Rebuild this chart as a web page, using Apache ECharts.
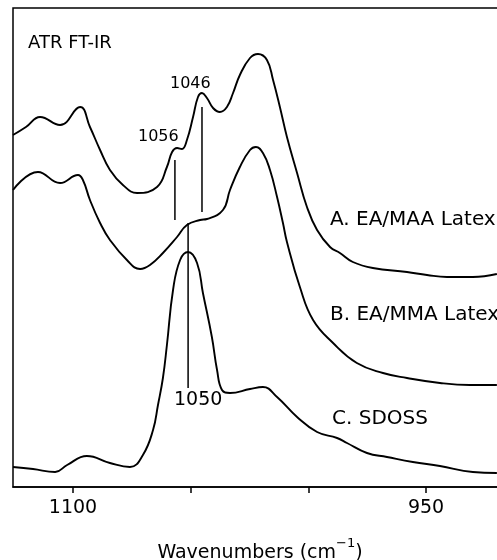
<!DOCTYPE html>
<html>
<head>
<meta charset="utf-8">
<script src="https://cdn.jsdelivr.net/npm/echarts@6/dist/echarts.min.js"></script>
<style>
  html, body { margin: 0; padding: 0; background: #fff; }
  #chart { width: 497px; height: 560px; }
</style>
</head>
<body>
<div id="chart"></div>
<script>
// wavenumbers (cm-1) and relative absorbance (arbitrary, stacked offsets)
var wnA = [1125.5, 1120.0, 1114.0, 1105.5, 1097.0, 1092.8, 1088.5, 1084.3, 1078.8, 1072.8, 1064.3, 1060.1, 1057.9, 1055.8, 1053.7, 1051.6, 1049.0, 1046.9, 1045.2, 1043.1, 1040.5, 1037.6, 1034.6, 1032.0, 1029.1, 1024.8, 1021.4, 1017.6, 1015.0, 1012.1, 1009.1, 1004.8, 1000.6, 996.3, 990.8, 986.6, 981.1, 972.6, 958.1, 949.6, 941.1, 930.1, 919.9];
var absA = [352, 360, 370, 362, 380, 360, 337, 317, 302, 294, 300, 320, 335, 339, 338, 347, 370, 390, 394, 389, 379, 375, 380, 394, 412, 429, 433, 427, 407, 380, 350, 314, 280, 257, 240, 234, 225, 219, 215, 212, 210, 210, 213];

var wnB = [1125.5, 1114.9, 1105.5, 1097.9, 1095.8, 1092.8, 1088.5, 1084.3, 1077.1, 1071.5, 1067.3, 1061.8, 1055.8, 1051.6, 1046.0, 1043.1, 1036.3, 1033.3, 1029.1, 1024.8, 1022.3, 1019.3, 1016.3, 1013.3, 1010.8, 1009.1, 1003.6, 998.0, 989.5, 979.4, 968.3, 958.1, 944.1, 931.4, 919.9];
var absB = [297, 315, 304, 312, 307, 287, 264, 247, 227, 218, 222, 234, 250, 262, 267, 268, 277, 297, 320, 337, 340, 334, 317, 290, 264, 245, 200, 167, 144, 124, 114, 109, 104, 102, 102];

var wnC = [1125.5, 1117.0, 1107.6, 1102.5, 1094.1, 1084.3, 1075.8, 1070.3, 1066.0, 1063.9, 1061.8, 1060.1, 1057.5, 1054.5, 1051.1, 1047.3, 1044.8, 1041.0, 1038.8, 1036.7, 1033.3, 1024.8, 1019.3, 1013.3, 1004.8, 996.3, 987.8, 983.6, 975.1, 966.6, 955.6, 944.1, 930.1, 919.9];
var absC = [20, 18, 15, 22, 31, 24, 20, 32, 57, 82, 109, 142, 197, 227, 235, 224, 194, 150, 117, 97, 94, 98, 100, 90, 70, 55, 49, 44, 34, 30, 25, 21, 15, 14];

// band marker lines: position, upper and lower end
var markWn = [1056.7, 1045.2, 1051.1];
var markTop = [327, 380, 264];
var markBottom = [267, 275, 99];

var tickValues = [1100, 1050, 1000, 950];
var labelValues = [1100, 950];

function zip(xs, ys) {
  return xs.map(function (x, i) { return [x, ys[i]]; });
}

var font = "DejaVu Sans";
var chart = echarts.init(document.getElementById("chart"));

var series = [
  { name: "A", data: zip(wnA, absA) },
  { name: "B", data: zip(wnB, absB) },
  { name: "C", data: zip(wnC, absC) }
].map(function (s) {
  return {
    name: s.name,
    type: "line",
    data: s.data,
    smooth: 0.45,
    symbol: "none",
    lineStyle: { color: "#000", width: 1.9 }
  };
});

markWn.forEach(function (w, i) {
  series.push({
    type: "line",
    data: [[w, markTop[i]], [w, markBottom[i]]],
    symbol: "none",
    lineStyle: { color: "#000", width: 1.5 }
  });
});

chart.setOption({
  animation: false,
  grid: {
    left: 13, top: 8, right: -10, bottom: 73,
    outerBoundsMode: "none",
    containLabel: false,
    show: true, borderColor: "#000", borderWidth: 1.5
  },
  xAxis: {
    type: "value",
    inverse: true,
    min: 915.6,
    max: 1125.5,
    splitLine: { show: false },
    axisLine: { lineStyle: { color: "#000", width: 1.5 } },
    axisTick: { show: true, customValues: tickValues, length: 6, lineStyle: { color: "#000", width: 1.5 } },
    axisLabel: {
      customValues: labelValues, color: "#000", fontFamily: font, fontSize: 19, margin: 12,
      formatter: function (v) { return String(v); }
    },
    name: "{a|Wavenumbers (cm}{s|\u22121}{a|)}",
    nameLocation: "middle",
    nameGap: 50,
    nameTextStyle: {
      rich: {
        a: { fontFamily: font, fontSize: 19, color: "#000", lineHeight: 26, verticalAlign: "bottom" },
        s: { fontFamily: font, fontSize: 13, color: "#000", lineHeight: 26, verticalAlign: "top" }
      }
    }
  },
  yAxis: {
    type: "value",
    min: 0,
    max: 479,
    splitLine: { show: false },
    axisLine: { show: false },
    axisTick: { show: false },
    axisLabel: { show: false }
  },
  graphic: [
    { type: "text", left: 28, top: 34, style: { text: "ATR FT-IR", font: "18px DejaVu Sans", fill: "#000" } },
    { type: "text", left: 170, top: 76, style: { text: "1046", font: "16px DejaVu Sans", fill: "#000" } },
    { type: "text", left: 138, top: 129, style: { text: "1056", font: "16px DejaVu Sans", fill: "#000" } },
    { type: "text", left: 174, top: 391, style: { text: "1050", font: "19px DejaVu Sans", fill: "#000" } },
    { type: "text", left: 330, top: 210, style: { text: "A. EA/MAA Latex", font: "20px DejaVu Sans", fill: "#000" } },
    { type: "text", left: 330, top: 305, style: { text: "B. EA/MMA Latex", font: "20px DejaVu Sans", fill: "#000" } },
    { type: "text", left: 332, top: 409, style: { text: "C. SDOSS", font: "20px DejaVu Sans", fill: "#000" } }
  ],
  series: series
});
</script>
</body>
</html>
